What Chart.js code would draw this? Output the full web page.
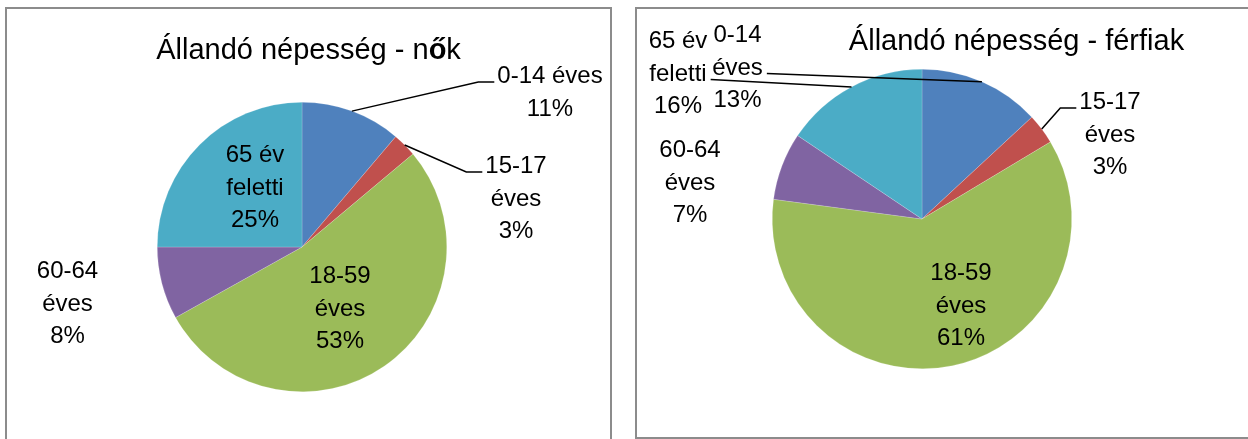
<!DOCTYPE html>
<html>
<head>
<meta charset="utf-8">
<script src="https://cdn.jsdelivr.net/npm/chart.js"></script>
<style>
    body { margin: 0; background: #fff; width: 1248px; height: 439px; overflow: hidden; position: relative; }
    .box { position: absolute; border: 2px solid #8c8c8c; box-sizing: border-box; background: #fff; }
    .layer { position: absolute; left: 0; top: 0; width: 1248px; height: 439px; }
</style>
</head>
<body>
<div class="box" style="left:5px; top:7px; width:607px; height:480px;"></div>
<div class="box" style="left:635px; top:7px; width:640px; height:432px;"></div>
<div class="layer"><canvas id="womenChart"></canvas></div>
<div class="layer"><canvas id="menChart"></canvas></div>
<script>
// age groups and shares (%)
const categories = ['0-14 éves', '15-17 éves', '18-59 éves', '60-64 éves', '65 év feletti'];
const womenValues = [11.2, 2.7, 53.0, 8.1, 25.0];
const menValues = [13.1, 3.3, 60.7, 7.3, 15.6];
const womenTitle = 'Állandó népesség - nők';
const menTitle = 'Állandó népesség - férfiak';

const colors = ['#4f81bd', '#c0504d', '#9bbb59', '#8064a2', '#4bacc6'];

// label placement relative to the pie centre (first baseline), leader side
const womenLabels = [
    { dx: 248, dy: -164, wrap: false, leader: 'right', line: 0 },
    { dx: 214, dy: -74, wrap: true, leader: 'right', line: 0 },
    { dx: 38, dy: 36, wrap: true },
    { dx: -234.5, dy: 31, wrap: true },
    { dx: -47, dy: -85, wrap: true }
];
const menLabels = [
    { dx: -184.5, dy: -177, wrap: true, leader: 'left', line: 1 },
    { dx: 188, dy: -110, wrap: true, leader: 'right', line: 0 },
    { dx: 39, dy: 61, wrap: true },
    { dx: -232, dy: -62, wrap: true },
    { dx: -244, dy: -171, wrap: true, leader: 'left', line: 1 }
];

const FONT = '"Liberation Sans", Arial, sans-serif';
const LINE_H = 32.5;

function drawTitle(ctx, text, cx, baseline) {
    ctx.save();
    ctx.fillStyle = '#000';
    ctx.textBaseline = 'alphabetic';
    ctx.textAlign = 'left';
    const parts = [];
    for (const ch of text) {
        const bold = ch === 'ő';
        parts.push({ ch, font: (bold ? 'bold ' : '') + '29px ' + FONT });
    }
    let total = 0;
    parts.forEach(p => { ctx.font = p.font; p.w = ctx.measureText(p.ch).width; total += p.w; });
    let x = cx - total / 2;
    parts.forEach(p => { ctx.font = p.font; ctx.fillText(p.ch, x, baseline); x += p.w; });
    ctx.restore();
}

function pieLabelsPlugin(values, labels, title) {
    return {
        id: 'pieLabels',
        afterDraw(chart) {
            const ctx = chart.ctx;
            const meta = chart.getDatasetMeta(0);
            const sum = values.reduce((a, b) => a + b, 0);
            ctx.save();
            ctx.font = '24px ' + FONT;
            ctx.fillStyle = '#000';
            ctx.strokeStyle = '#000';
            ctx.lineWidth = 1.5;
            ctx.textAlign = 'center';
            ctx.textBaseline = 'alphabetic';
            meta.data.forEach((arc, i) => {
                const p = arc.getProps(['x', 'y', 'startAngle', 'endAngle', 'outerRadius'], true);
                const lab = labels[i];
                const pct = Math.round(values[i] / sum * 100) + '%';
                const name = categories[i];
                let lines;
                if (lab.wrap) {
                    const k = name.lastIndexOf(' ');
                    lines = [name.slice(0, k), name.slice(k + 1), pct];
                } else {
                    lines = [name, pct];
                }
                const cx = p.x + lab.dx;
                const by = p.y + lab.dy;
                lines.forEach((t, j) => ctx.fillText(t, cx, by + j * LINE_H));

                if (lab.leader) {
                    const mid = (p.startAngle + p.endAngle) / 2;
                    const ex = p.x + Math.cos(mid) * p.outerRadius;
                    const ey = p.y + Math.sin(mid) * p.outerRadius;
                    const w = ctx.measureText(lines[lab.line]).width;
                    const ly = by + lab.line * LINE_H - 1;
                    ctx.beginPath();
                    ctx.moveTo(ex, ey);
                    if (lab.leader === 'right') {
                        const end = cx - w / 2 - 3;
                        ctx.lineTo(end - 16, ly);
                        ctx.lineTo(end, ly);
                    } else {
                        ctx.lineTo(cx + w / 2 + 4, ly);
                    }
                    ctx.stroke();
                }
            });
            ctx.restore();
            drawTitle(ctx, title.text, title.x, title.y);
        }
    };
}

function makePie(id, values, labels, padding, title) {
    const ctx = document.getElementById(id).getContext('2d');
    new Chart(ctx, {
        type: 'pie',
        data: {
            labels: categories,
            datasets: [{
                data: values,
                backgroundColor: colors,
                borderColor: 'rgba(255,255,255,0.35)',
                borderWidth: 0.5
            }]
        },
        options: {
            responsive: true,
            maintainAspectRatio: false,
            animation: false,
            events: [],
            layout: { padding: padding },
            plugins: {
                legend: { display: false },
                tooltip: { enabled: false },
                title: { display: false }
            }
        },
        plugins: [pieLabelsPlugin(values, labels, title)]
    });
}

makePie('womenChart', womenValues, womenLabels,
    { left: 157, right: 801, top: 102, bottom: 47 },
    { text: womenTitle, x: 308.5, y: 59 });
makePie('menChart', menValues, menLabels,
    { left: 772, right: 176, top: 69, bottom: 70 },
    { text: menTitle, x: 1016.5, y: 50 });
</script>
</body>
</html>
